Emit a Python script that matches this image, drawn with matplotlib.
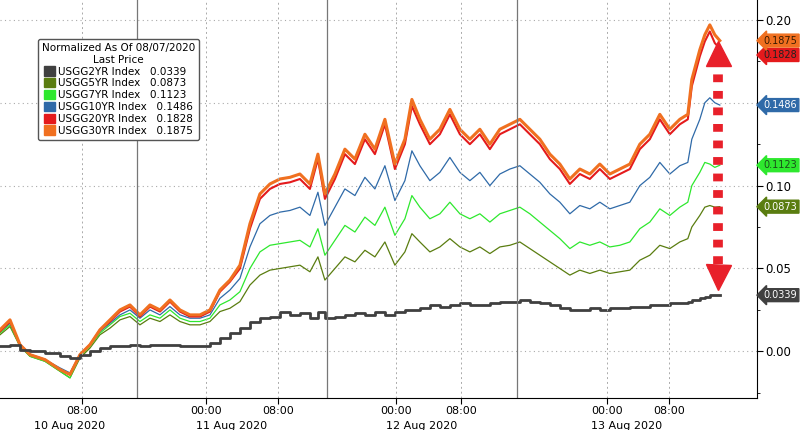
import matplotlib
matplotlib.use("Agg")
import matplotlib.pyplot as plt
from matplotlib.patches import Patch

X = [0,10,20,30,45,60,70,80,90,100,110,120,130,140,150,160,170,180,190,200,210,
     220,230,240,250,260,270,280,290,300,310,318,325,
     335,345,355,365,375,385,395,405,412,
     420,430,440,450,460,470,480,490,500,510,520,530,540,550,560,570,580,590,600,610,620,630,640,650,660,670,680,
     688,692,700,705,710,715,720]

y30 = [0.013,0.019,0.004,-0.002,-0.005,-0.011,-0.014,-0.002,0.004,0.013,0.019,0.025,0.028,0.022,0.028,0.025,0.031,0.025,0.022,0.022,0.025,
       0.037,0.043,0.052,0.077,0.095,0.101,0.104,0.105,0.107,0.101,0.119,0.095,
       0.107,0.122,0.116,0.131,0.122,0.140,0.113,0.128,0.152,
       0.140,0.128,0.134,0.146,0.134,0.128,0.134,0.125,0.134,0.137,0.140,0.134,0.128,0.119,0.113,0.104,0.110,0.107,0.113,0.107,0.110,0.113,0.125,0.131,0.143,0.134,0.140,
       0.143,0.164,0.182,0.191,0.197,0.191,0.1875]
y20 = [0.012,0.018,0.004,-0.002,-0.005,-0.011,-0.014,-0.002,0.004,0.013,0.018,0.024,0.027,0.021,0.027,0.024,0.030,0.024,0.021,0.021,0.024,
       0.036,0.042,0.050,0.074,0.092,0.098,0.101,0.102,0.104,0.098,0.116,0.092,
       0.104,0.119,0.113,0.128,0.119,0.137,0.110,0.125,0.148,
       0.137,0.125,0.131,0.143,0.131,0.125,0.131,0.122,0.131,0.134,0.137,0.131,0.125,0.116,0.110,0.101,0.107,0.104,0.110,0.104,0.107,0.110,0.122,0.128,0.140,0.131,0.137,
       0.140,0.160,0.178,0.187,0.193,0.186,0.1828]
y10 = [0.012,0.017,0.004,-0.002,-0.005,-0.010,-0.013,-0.002,0.004,0.012,0.017,0.022,0.025,0.020,0.025,0.022,0.027,0.022,0.020,0.020,0.022,
       0.032,0.037,0.044,0.063,0.077,0.082,0.084,0.085,0.087,0.082,0.096,0.076,
       0.087,0.098,0.094,0.105,0.098,0.112,0.091,0.103,0.121,
       0.112,0.103,0.108,0.117,0.108,0.103,0.108,0.100,0.107,0.110,0.112,0.107,0.102,0.095,0.090,0.083,0.088,0.086,0.090,0.086,0.088,0.090,0.100,0.105,0.114,0.107,0.112,
       0.114,0.128,0.140,0.150,0.153,0.150,0.1486]
y7 = [0.011,0.016,0.003,-0.003,-0.006,-0.012,-0.016,-0.003,0.003,0.011,0.016,0.021,0.023,0.018,0.022,0.020,0.025,0.020,0.018,0.018,0.020,
      0.028,0.031,0.036,0.050,0.060,0.064,0.065,0.066,0.067,0.063,0.074,0.058,
      0.067,0.076,0.072,0.081,0.076,0.087,0.070,0.080,0.094,
      0.087,0.080,0.083,0.090,0.083,0.080,0.083,0.078,0.083,0.085,0.087,0.083,0.078,0.073,0.068,0.062,0.066,0.064,0.066,0.063,0.064,0.066,0.074,0.078,0.086,0.082,0.087,
      0.090,0.100,0.108,0.114,0.113,0.111,0.1123]
y5 = [0.010,0.015,0.003,-0.003,-0.006,-0.012,-0.016,-0.004,0.002,0.010,0.014,0.019,0.021,0.016,0.020,0.018,0.022,0.018,0.016,0.016,0.018,
      0.024,0.026,0.030,0.040,0.046,0.049,0.050,0.051,0.052,0.048,0.057,0.043,
      0.050,0.057,0.054,0.061,0.057,0.066,0.052,0.060,0.071,
      0.066,0.060,0.063,0.068,0.063,0.060,0.063,0.059,0.063,0.064,0.066,0.062,0.058,0.054,0.050,0.046,0.049,0.047,0.049,0.047,0.048,0.049,0.055,0.058,0.064,0.062,0.066,
      0.068,0.075,0.082,0.087,0.088,0.087,0.0873]
y2 = [0.003,0.004,0.001,0.000,-0.001,-0.003,-0.004,-0.002,0.000,0.002,0.003,0.003,0.004,0.003,0.004,0.004,0.004,0.003,0.003,0.003,0.005,
      0.008,0.011,0.014,0.018,0.020,0.021,0.024,0.022,0.023,0.020,0.024,0.020,
      0.021,0.022,0.023,0.022,0.024,0.022,0.024,0.025,0.025,
      0.026,0.028,0.027,0.028,0.029,0.028,0.028,0.029,0.030,0.030,0.031,0.030,0.029,0.028,0.026,0.025,0.025,0.026,0.025,0.026,0.026,0.027,0.027,0.028,0.028,0.029,0.029,
      0.030,0.031,0.032,0.033,0.034,0.034,0.0339]

names = ["USGG2YR Index", "USGG5YR Index", "USGG7YR Index", "USGG10YR Index", "USGG20YR Index", "USGG30YR Index"]
last = [0.0339, 0.0873, 0.1123, 0.1486, 0.1828, 0.1875]
colors = ["#404040", "#5a7d10", "#2ee82e", "#2f6aa8", "#e41a1c", "#f07020"]
tag_text = ["white", "white", "#1a4d1a", "white", "#222222", "#3a1a00"]

time_pos = [82, 206, 278, 396, 461, 607, 669]
time_lbl = ["08:00", "00:00", "08:00", "00:00", "08:00", "00:00", "08:00"]
day_pos = [70, 232, 422, 627]
day_lbl = ["10 Aug 2020", "11 Aug 2020", "12 Aug 2020", "13 Aug 2020"]
day_bounds = [137, 327, 517]

fig = plt.figure(figsize=(8, 4.3), dpi=100)
ax = fig.add_axes([0.0, 0.075, 0.946, 0.925])
ax.set_xlim(0, 757)
ax.set_ylim(-0.028, 0.212)

ax.plot(X, y5, color=colors[1], lw=0.9)
ax.plot(X, y7, color=colors[2], lw=0.9)
ax.plot(X, y10, color=colors[3], lw=0.9)
ax.plot(X, y20, color=colors[4], lw=1.5)
ax.plot(X, y30, color=colors[5], lw=2.2)
ax.plot(X, y2, color=colors[0], lw=2.0, drawstyle="steps-post")

ax.yaxis.tick_right()
ax.set_yticks([0.0, 0.05, 0.10, 0.15, 0.20])
ax.set_yticks([-0.025, 0.025, 0.075, 0.125, 0.175], minor=True)
ax.set_yticklabels(["0.00", "0.05", "0.10", "", "0.20"], fontsize=8.5)
ax.grid(axis="y", which="major", color="#aaaaaa", ls=(0, (1, 3)), lw=0.8)
ax.set_xticks(time_pos)
ax.set_xticklabels(time_lbl, fontsize=8)
for p in time_pos:
    ax.axvline(p, color="#aaaaaa", ls=(0, (2, 3)), lw=0.7)
for p in day_bounds:
    ax.axvline(p, color="#777777", lw=0.9)
for p, l in zip(day_pos, day_lbl):
    ax.text(p, -0.058, l, transform=ax.get_xaxis_transform(), ha="center", va="top", fontsize=8)
ax.tick_params(axis="x", length=4, pad=2)
ax.tick_params(axis="y", length=4, pad=2)
for s in ["top", "left"]:
    ax.spines[s].set_visible(False)

# price tags
for v, c, n, tc in zip(last, colors, names, tag_text):
    is20 = n.startswith("USGG20")
    off = -0.004 if is20 else 0
    ax.annotate(f"{v:.4f}", xy=(1.0, v + off), xycoords=("axes fraction", "data"),
                xytext=(5, 0), textcoords="offset points", va="center", ha="left", fontsize=7,
                color=tc, bbox=dict(boxstyle="larrow,pad=0.15", fc=c, ec=c), annotation_clip=False,
                zorder=4 if is20 else 5)

# red dotted double arrow
ax.plot([718, 718], [0.053, 0.172], color="#e8202a", lw=7, ls=(0, (0.8, 0.9)), solid_capstyle="butt")
ax.plot([718], [0.180], marker="^", color="#e8202a", ms=18)
ax.plot([718], [0.045], marker="v", color="#e8202a", ms=18)

handles = [Patch(fc=c, ec=c) for c in colors]
labels = [f"{n}   {v:.4f}" for n, v in zip(names, last)]
leg = ax.legend(handles, labels, title="Normalized As Of 08/07/2020\nLast Price", loc="upper left",
                bbox_to_anchor=(0.043, 0.915), fontsize=7.5, title_fontsize=7.5, handlelength=1.0,
                handleheight=1.0, handletextpad=0.3, labelspacing=0.15, borderpad=0.4, fancybox=True,
                framealpha=1, edgecolor="#555555")
leg.get_title().set_multialignment("center")

fig.savefig("out.png", dpi=100)
